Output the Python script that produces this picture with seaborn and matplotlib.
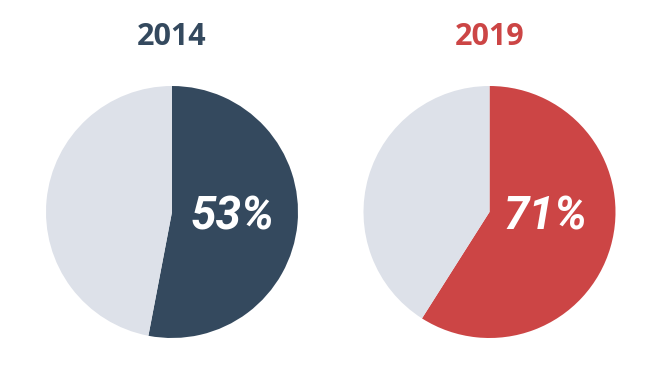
import matplotlib
matplotlib.use("Agg")
import matplotlib.pyplot as plt
import seaborn as sns
from matplotlib import font_manager

years = ["2014", "2019"]
wedge_values = [53, 59]          # share drawn in each pie (as read from the wedges)
labels = ["53%", "71%"]          # printed labels
colors = ["#34495e", "#cc4545"]
rest_color = "#dde1e9"

sns.set_theme(style="white")
plt.rcParams['font.family'] = ['Open Sans', 'DejaVu Sans']

names = {f.name for f in font_manager.fontManager.ttflist}
label_family = 'Liberation Sans Narrow' if 'Liberation Sans Narrow' in names else 'Roboto'

fig = plt.figure(figsize=(6.69, 3.88), dpi=100)
W, H = 669, 388
centers = [(172, 212), (489.5, 212)]
label_pos = [(232.5, 216.5), (545.5, 216.5)]
r = 126

for i, (yr, s) in enumerate(zip(years, wedge_values)):
    cx, cy = centers[i]
    ax = fig.add_axes([(cx - r) / W, 1 - (cy + r) / H, 2 * r / W, 2 * r / H])
    ax.pie([s, 100 - s], colors=[colors[i], rest_color], startangle=90,
           counterclock=False, radius=1, wedgeprops=dict(linewidth=0))
    ax.set_xlim(-1, 1)
    ax.set_ylim(-1, 1)
    ax.set_aspect('auto')
    ax.axis('off')
    lx, ly = label_pos[i]
    fig.text(lx / W, 1 - ly / H, labels[i], color="white", fontsize=33,
             fontweight="bold", fontstyle="italic", ha="center", va="center",
             family=[label_family, 'DejaVu Sans'])
    fig.text(cx / W, 1 - 37 / H, yr, color=colors[i], fontsize=22,
             fontweight="bold", ha="center", va="center")

fig.savefig("out.png", dpi=100, facecolor="white")
